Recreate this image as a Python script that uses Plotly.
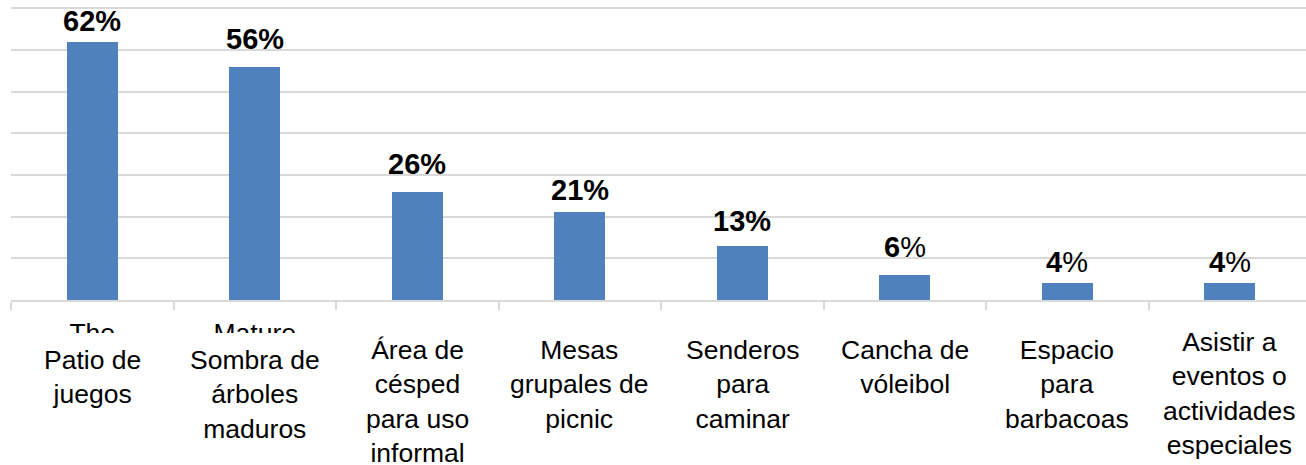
import plotly.graph_objects as go

# ---- data ----
categories = [
    "Patio de<br>juegos",
    "Sombra de<br>árboles<br>maduros",
    "Área de<br>césped<br>para uso<br>informal",
    "Mesas<br>grupales de<br>picnic",
    "Senderos<br>para<br>caminar",
    "Cancha de<br>vóleibol",
    "Espacio<br>para<br>barbacoas",
    "Asistir a<br>eventos o<br>actividades<br>especiales",
]
values = [62, 56, 26, 21, 13, 6, 4, 4]
value_labels = ["<b>62%</b>", "<b>56%</b>", "<b>26%</b>", "<b>21%</b>",
                "<b>13%</b>", "<b>6</b>%", "<b>4</b>%", "<b>4</b>%"]
hidden_labels = ["The", "Mature"]   # partly covered English labels
y_ticks = [0, 10, 20, 30, 40, 50, 60, 70]

# ---- style / layout constants ----
W, H = 1306, 465
FONT = "Liberation Sans, Arial, sans-serif"
BAR_COLOR = "#4F81BD"
GRID = "#D9D9D9"
plot_left, plot_top, plot_bottom = 11, 8.3, 300
y_max = 70.3
cat_px = 162.5
px_per_unit = (plot_bottom - plot_top) / 70
label_lift_px = [3, 10, 10, 4, 7, 10, 3, 3]
label_top_px = [343, 343, 333, 333, 333, 333, 333, 325]

x_keys = list(range(len(categories)))
x_range = [-0.5, -0.5 + (W - plot_left) / cat_px]
top_px = plot_bottom - y_max * px_per_unit
y_dom = [1 - plot_bottom / H, 1 - top_px / H]

fig = go.Figure()
fig.add_trace(go.Bar(
    x=x_keys, y=values, marker=dict(color=BAR_COLOR, line=dict(width=0)),
    width=51 / cat_px, hoverinfo="skip", showlegend=False,
))

# partly hidden labels, clipped by a thin subplot
fig.add_trace(go.Scatter(
    x=x_keys[:len(hidden_labels)], y=[0.49] * len(hidden_labels),
    mode="text", text=hidden_labels, textposition="bottom center",
    textfont=dict(family=FONT, size=26.5, color="#000000"),
    cliponaxis=True, xaxis="x2", yaxis="y2", showlegend=False, hoverinfo="skip",
))

annotations = []
for i, (v, t) in enumerate(zip(values, value_labels)):
    annotations.append(dict(
        x=i, y=v, xref="x", yref="y", text=t, showarrow=False,
        yanchor="bottom", yshift=label_lift_px[i],
        font=dict(family=FONT, size=29, color="#000000"),
    ))
for i, c in enumerate(categories):
    annotations.append(dict(
        x=i, y=1 - label_top_px[i] / H, xref="x", yref="paper", text=c,
        showarrow=False, yanchor="top", align="center",
        font=dict(family=FONT, size=26.5, color="#000000"),
    ))

fig.update_layout(
    width=W, height=H,
    margin=dict(l=0, r=0, t=0, b=0),
    paper_bgcolor="white", plot_bgcolor="white",
    bargap=0,
    xaxis=dict(
        domain=[plot_left / W, 1], range=x_range, type="linear",
        showgrid=False, zeroline=False, showticklabels=False,
        showline=True, linecolor=GRID, linewidth=1.5,
        ticks="outside", ticklen=8, tickcolor=GRID, tickwidth=1.5,
        tickmode="array", tickvals=[k - 0.5 for k in x_keys],
    ),
    yaxis=dict(
        domain=y_dom, range=[0, y_max], showgrid=True, gridcolor=GRID, gridwidth=1.5,
        tickmode="array", tickvals=y_ticks, showticklabels=False,
        zeroline=False, showline=False, ticks="",
    ),
    xaxis2=dict(domain=[plot_left / W, 1], range=x_range, visible=False,
                anchor="y2", matches="x"),
    yaxis2=dict(domain=[1 - 333 / H, 1 - 310 / H], range=[0, 1], visible=False,
                anchor="x2"),
    annotations=annotations,
    font=dict(family=FONT),
)

fig.write_html("out.html", config={"displayModeBar": False},
               post_script="document.body.style.margin='0';document.body.style.overflow='hidden';")
